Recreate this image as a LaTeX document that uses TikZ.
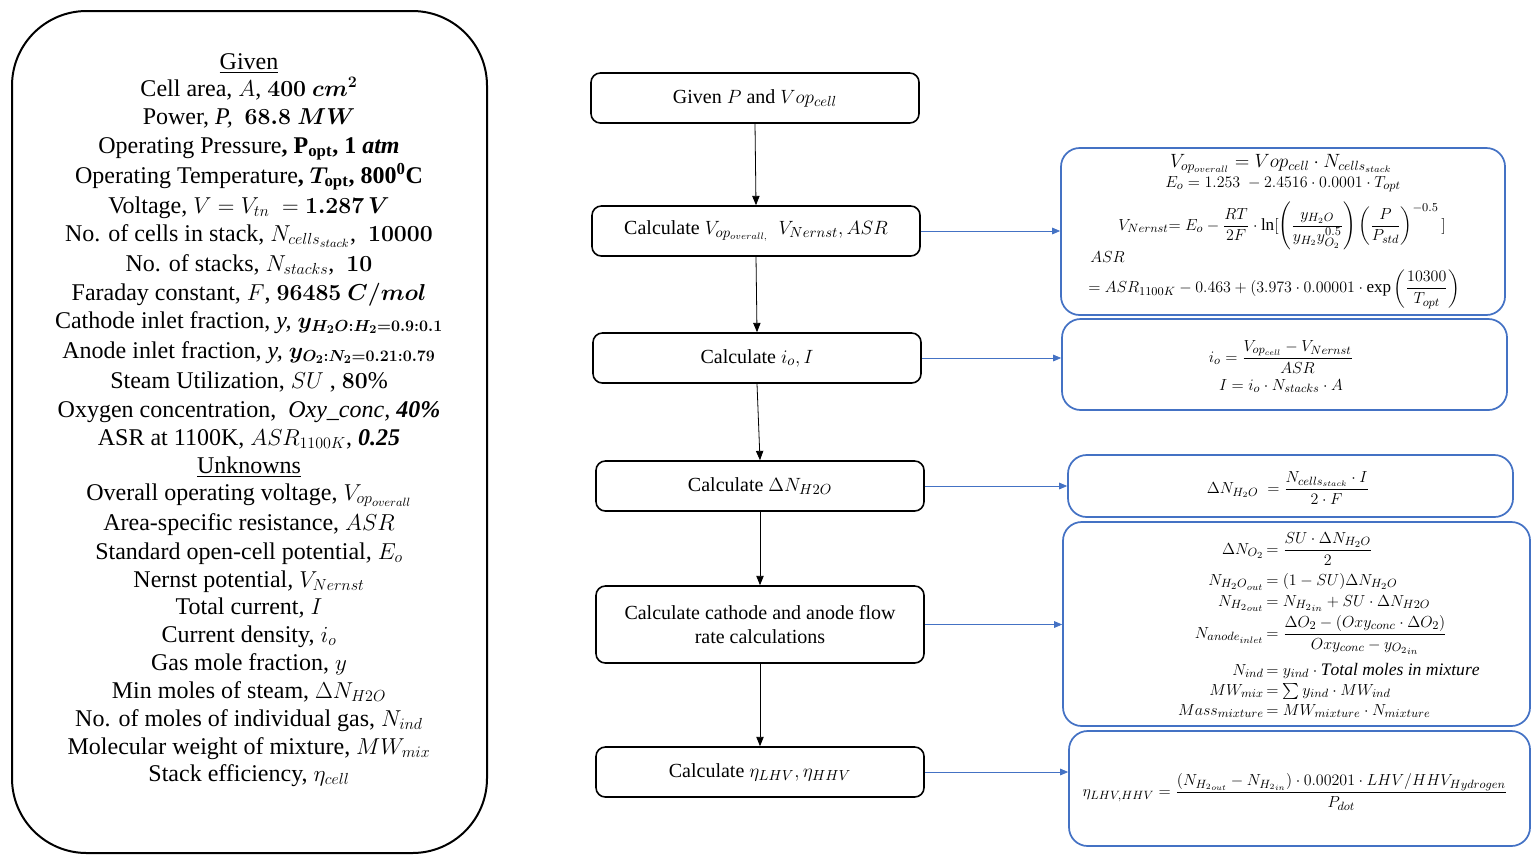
\documentclass[tikz,border=0pt]{standalone}
\usepackage{amsmath}
\usepackage{bm}
\usepackage{fontspec}
\setmainfont{Liberation Serif}
\usetikzlibrary{arrows.meta,calc}
\definecolor{boxblue}{RGB}{68,114,196}
\begin{document}
\begin{tikzpicture}[x=0.75pt,y=-0.75pt,
  panel/.style={draw, line width=1.5pt, rounded corners=56pt, minimum width=356.25pt, minimum height=631.5pt, inner sep=0pt},
  ltext/.style={anchor=mid, inner sep=0pt, font=\fontsize{18}{21}\selectfont},
  flowbox/.style={draw, line width=1.2pt, rounded corners=7pt, minimum width=246pt, minimum height=37.5pt, font=\fontsize{15}{18}\selectfont, align=center, inner sep=2pt},
  eqbox/.style={draw=boxblue, line width=1.3pt, rounded corners=14pt, inner sep=0pt},
  eq/.style={font=\fontsize{12.8}{15}\selectfont, inner sep=0pt},
  eql/.style={font=\fontsize{13.2}{15}\selectfont, inner sep=0pt, anchor=mid east},
  eqr/.style={font=\fontsize{13.2}{15}\selectfont, inner sep=0pt, anchor=mid west},
  flowarrow/.style={-{Triangle[length=7pt,width=5.5pt]}, line width=0.6pt},
  eqarrow/.style={-{Triangle[length=6pt,width=5pt]}, line width=0.6pt, draw=boxblue, fill=boxblue}
]
\useasboundingbox (0,0) rectangle (1537,861);

% left panel
\node[panel] (panel) at (249.5,432) {};
\node[ltext] (l1) at (249,66) {\underline{Given}};
\node[ltext] (l2) at (249,93) {Cell area, $A$, $\bm{400\ cm^2}$};
\node[ltext] (l3) at (249,121) {Power, \textit{P,} \ $\bm{68.8\;MW}$};
\node[ltext] (l4) at (249,150) {Operating Pressure\textbf{, P\textsubscript{opt}, 1 \textit{atm}}};
\node[ltext] (l5) at (249,180) {Operating Temperature\textbf{, $\bm{T}_{\mathbf{opt}}$, 800\textsuperscript{0}C}};
\node[ltext] (l6) at (249,210) {Voltage, $V = V_{tn}\ = \bm{1.287\,V}$};
\node[ltext] (l7) at (249,238) {No. of cells in stack, $N_{cells_{stack}}$, \ $\bm{10000}$};
\node[ltext] (l8) at (249,268) {No. of stacks, $N_{stacks}$, \ $\bm{10}$};
\node[ltext] (l9) at (249,297) {Faraday constant, $F$, $\bm{96485\ C/mol}$};
\node[ltext] (l10) at (249,325) {Cathode inlet fraction, \textit{y,} $\bm{y_{H_2O:H_2=0.9:0.1}}$};
\node[ltext] (l11) at (249,355) {Anode inlet fraction, \textit{y,} $\bm{y_{O_2:N_2=0.21:0.79}}$};
\node[ltext] (l12) at (249,385) {Steam Utilization, $SU$ , $\bm{80\%}$};
\node[ltext] (l13) at (249,414) {Oxygen concentration, \ \textit{Oxy\_conc, \textbf{40\%}}};
\node[ltext] (l14) at (249,442) {ASR at 1100K, $ASR_{1100K}$, \textbf{\textit{0.25}}};
\node[ltext] (l15) at (249,470) {\underline{Unknowns}};
\node[ltext] (l16) at (249,497) {Overall operating voltage, $V_{op_{overall}}$};
\node[ltext] (l17) at (249,527) {Area-specific resistance, $ASR$};
\node[ltext] (l18) at (249,556) {Standard open-cell potential\textit{, }$E_o$};
\node[ltext] (l19) at (249,584) {Nernst potential\textit{, }$V_{Nernst}$};
\node[ltext] (l20) at (249,611) {Total current\textit{, }$I$};
\node[ltext] (l21) at (249,639) {Current density, $i_o$};
\node[ltext] (l22) at (249,667) {Gas mole fraction, $y$};
\node[ltext] (l23) at (249,695) {Min moles of steam, $\Delta N_{H2O}$};
\node[ltext] (l24) at (249,723) {No. of moles of individual gas, $N_{ind}$};
\node[ltext] (l25) at (249,751) {Molecular weight of mixture, $MW_{mix}$};
\node[ltext] (l26) at (249,778) {Stack efficiency, $\eta_{cell}$};

% flow boxes
\node[flowbox] (b1) at (755,98) {Given $P$ and $Vop_{cell}$};
\node[flowbox] (b2) at (756,231) {Calculate $V_{op_{overall,}}\ \ V_{Nernst}, ASR$};
\node[flowbox] (b3) at (757,358) {Calculate $i_o, I$};
\node[flowbox] (b4) at (760,486) {Calculate $\Delta N_{H2O}$};
\node[flowbox, minimum height=57.75pt] (b5) at (760,624.5) {Calculate cathode and anode flow\\rate calculations};
\node[flowbox] (b6) at (760,772) {Calculate $\eta_{LHV}, \eta_{HHV}$};

\draw[flowarrow] (b1.south) -- (b2.north);
\draw[flowarrow] (b2.south) -- (b3.north);
\draw[flowarrow] (b3.south) -- (b4.north);
\draw[flowarrow] (b4.south) -- (b5.north);
\draw[flowarrow] (b5.south) -- (b6.north);

% equation boxes
\node[eqbox, minimum width=333pt, minimum height=125.25pt] (r1) at (1283,231.5) {};
\node[eqbox, minimum width=333.75pt, minimum height=68.25pt] (r2) at (1284.5,364.5) {};
\node[eqbox, minimum width=333.75pt, minimum height=46.5pt] (r3) at (1290.5,486) {};
\node[eqbox, minimum width=350.25pt, minimum height=153pt] (r4) at (1296.5,624) {};
\node[eqbox, minimum width=345.75pt, minimum height=86.25pt] (r5) at (1299.5,788.5) {};

\draw[eqarrow] (b2.east) -- (b2.east -| r1.west);
\draw[eqarrow] (b3.east) -- (b3.east -| r2.west);
\draw[eqarrow] (b4.east) -- (b4.east -| r3.west);
\draw[eqarrow] (b5.east) -- (b5.east -| r4.west);
\draw[eqarrow] (b6.east) -- (b6.east -| r5.west);

% equations
\node[eq, font=\fontsize{13.8}{15}\selectfont] (f1a) at (1281,164) {$V_{op_{overall}} = Vop_{cell}\cdot N_{cells_{stack}}$};
\node[eq] (f1b) at (1283,184) {$E_o = 1.253\ - 2.4516\cdot 0.0001\cdot T_{opt}$};
\node[eq] (f1c) at (1282,226) {$V_{Nernst}{=}\ E_o - \dfrac{RT}{2F}\cdot \ln[\left(\dfrac{y_{H_2O}}{y_{H_2}y_{O_2}^{0.5}}\right)\left(\dfrac{P}{P_{std}}\right)^{-0.5}\,]$};
\node[eq, anchor=west] (f1d) at (1090,257) {$ASR$};
\node[eq, anchor=west] (f1e) at (1088,289) {$= ASR_{1100K} - 0.463 + (3.973\cdot 0.00001\cdot \exp\left(\dfrac{10300}{T_{opt}}\right)$};

\node[eq] (f2a) at (1281,357) {$i_o = \dfrac{V_{op_{cell}} - V_{Nernst}}{ASR}$};
\node[eq] (f2b) at (1281,386) {$I = i_o\cdot N_{stacks}\cdot A$};

\node[eq] (f3) at (1288,488) {$\Delta N_{H_2O}\ = \dfrac{N_{cells_{stack}}\cdot I}{2\cdot F}$};

% cathode / anode flow equations, aligned at '='
\node[eql] (g1l) at (1264,551) {$\Delta N_{O_2}$};
\node[eqr] (g1r) at (1266,551) {$= \dfrac{SU\cdot \Delta N_{H_2O}}{2}$};
\node[eql] (g2l) at (1264,582) {$N_{{H_2O}_{out}}$};
\node[eqr] (g2r) at (1266,582) {$= (1-SU)\Delta N_{H_2O}$};
\node[eql] (g3l) at (1264,603) {$N_{{H_2}_{out}}$};
\node[eqr] (g3r) at (1266,603) {$= N_{{H_2}_{in}} + SU\cdot \Delta N_{H2O}$};
\node[eql] (g4l) at (1264,635) {$N_{anode_{inlet}}$};
\node[eqr] (g4r) at (1266,635) {$= \dfrac{\Delta O_2 - (Oxy_{conc}\cdot \Delta O_2)}{Oxy_{conc} - y_{{O_2}_{in}}}$};
\node[eql] (g5l) at (1264,672) {$N_{ind}$};
\node[eqr] (g5r) at (1266,672) {$= y_{ind}\cdot \mathit{Total\ moles\ in\ mixture}$};
\node[eql] (g6l) at (1264,692) {$MW_{mix}$};
\node[eqr] (g6r) at (1266,692) {$= \textstyle\sum y_{ind}\cdot MW_{ind}$};
\node[eql] (g7l) at (1264,712) {$Mass_{mixture}$};
\node[eqr] (g7r) at (1266,712) {$= MW_{mixture}\cdot N_{mixture}$};

\node[eq] (f5) at (1295,792) {$\eta_{LHV,HHV} = \dfrac{\left(N_{{H_2}_{out}} - N_{{H_2}_{in}}\right)\cdot 0.00201\cdot LHV/HHV_{Hydrogen}}{P_{dot}}$};
\end{tikzpicture}
\end{document}
